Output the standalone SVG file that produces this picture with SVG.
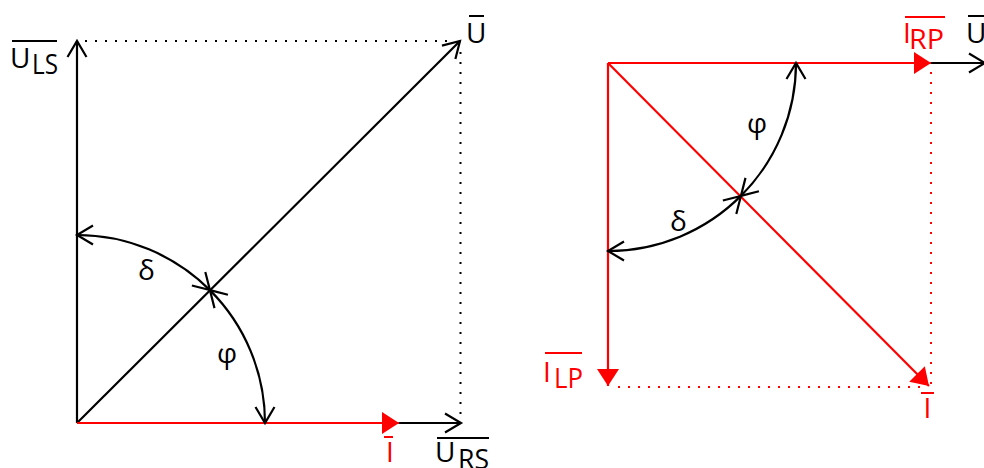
<svg xmlns="http://www.w3.org/2000/svg" width="984" height="468" viewBox="0 0 984 468">
<style>
.blk{stroke:#000;stroke-width:2.2;fill:none}
.red{stroke:#f00;stroke-width:2.2;fill:none}
.dotk{stroke:#000;stroke-width:2;fill:none;stroke-dasharray:2 8}
.dotr{stroke:#f00;stroke-width:2;fill:none;stroke-dasharray:2 8}
.t{font-family:"Open Sans","DejaVu Sans",sans-serif;font-size:28px;fill:#000}
.tr{font-family:"Open Sans","DejaVu Sans",sans-serif;font-size:28px;fill:#f00}
.ob{stroke:#000;stroke-width:2}
.or{stroke:#f00;stroke-width:2}
</style>
<defs>
<marker id="open" markerUnits="userSpaceOnUse" markerWidth="40" markerHeight="40" refX="0" refY="0" viewBox="-20 -20 40 40" orient="auto-start-reverse" overflow="visible">
<path d="M-16,-9.5 L0,0 L-16,9.5" fill="none" stroke="#000" stroke-width="2.2"/>
</marker>
<marker id="tri" markerUnits="userSpaceOnUse" markerWidth="40" markerHeight="40" refX="0" refY="0" viewBox="-20 -20 40 40" orient="auto" overflow="visible">
<path d="M0,0 L-17,-11 L-17,11 Z" fill="#f00"/>
</marker>
</defs>

<g id="connectors">
<line class="dotk" x1="85" y1="41" x2="454" y2="41"/>
<line class="dotk" x1="460.5" y1="52" x2="460.5" y2="418"/>
<line class="blk" x1="77" y1="423" x2="77" y2="41" marker-end="url(#open)"/>
<line class="blk" x1="77" y1="423" x2="461" y2="423" marker-end="url(#open)"/>
<line class="blk" x1="77" y1="423" x2="460" y2="41" marker-end="url(#open)"/>
<line class="red" x1="77" y1="423" x2="399" y2="423" marker-end="url(#tri)"/>
<path class="blk" d="M77,235 A188,188 0 0 1 209.9,290.1" marker-start="url(#open)" marker-end="url(#open)"/>
<path class="blk" d="M209.9,290.1 A188,188 0 0 1 265,423" marker-start="url(#open)" marker-end="url(#open)"/>
<line class="dotr" x1="931" y1="72" x2="931" y2="384"/>
<line class="dotr" x1="618" y1="387" x2="928" y2="387"/>
<line class="blk" x1="930" y1="63" x2="985" y2="63" marker-end="url(#open)"/>
<line class="red" x1="608" y1="63" x2="931" y2="63" marker-end="url(#tri)"/>
<line class="red" x1="608" y1="63" x2="608" y2="386" marker-end="url(#tri)"/>
<line class="red" x1="608" y1="63" x2="929" y2="386" marker-end="url(#tri)"/>
<path class="blk" d="M796,63 A188,188 0 0 1 740.9,195.9" marker-start="url(#open)" marker-end="url(#open)"/>
<path class="blk" d="M740.9,195.9 A188,188 0 0 1 608,251" marker-start="url(#open)" marker-end="url(#open)"/>
</g>

<g id="label-U-left">
<line class="ob" x1="469" y1="16" x2="484" y2="16"/>
<text class="t" x="466" y="43">U</text>
</g>
<g id="label-ULS">
<line class="ob" x1="12" y1="41" x2="57" y2="41"/>
<text class="t" x="10" y="68">U</text>
<text class="t" x="32" y="74" textLength="26" lengthAdjust="spacingAndGlyphs">LS</text>
</g>
<g id="label-delta-left"><text class="t" x="138" y="280">δ</text></g>
<g id="label-phi-left"><text class="t" x="217" y="363">φ</text></g>
<g id="label-I-left">
<line class="or" x1="384" y1="437" x2="393" y2="437"/>
<text class="tr" x="390" y="462" text-anchor="middle" font-size="25">I</text>
</g>
<g id="label-URS">
<line class="ob" x1="437" y1="438" x2="489" y2="438"/>
<text class="t" x="435" y="462">U</text>
<text class="t" x="458" y="469" textLength="31" lengthAdjust="spacingAndGlyphs">RS</text>
</g>

<g id="label-IRP">
<line class="or" x1="905" y1="17" x2="945" y2="17"/>
<text class="tr" x="903" y="43">I</text>
<text class="tr" x="909" y="49" textLength="35" lengthAdjust="spacingAndGlyphs">RP</text>
</g>
<g id="label-U-right">
<line class="ob" x1="968" y1="16" x2="984" y2="16"/>
<text class="t" x="966" y="43">U</text>
</g>
<g id="label-phi-right"><text class="t" x="747" y="133">φ</text></g>
<g id="label-delta-right"><text class="t" x="670" y="231">δ</text></g>
<g id="label-ILP">
<line class="or" x1="545" y1="353" x2="582" y2="353"/>
<text class="tr" x="543" y="382">I</text>
<text class="tr" x="554" y="388" textLength="29" lengthAdjust="spacingAndGlyphs">LP</text>
</g>
<g id="label-I-right">
<line class="or" x1="921" y1="393" x2="934" y2="393"/>
<text class="tr" x="927.5" y="418" text-anchor="middle">I</text>
</g>
</svg>
